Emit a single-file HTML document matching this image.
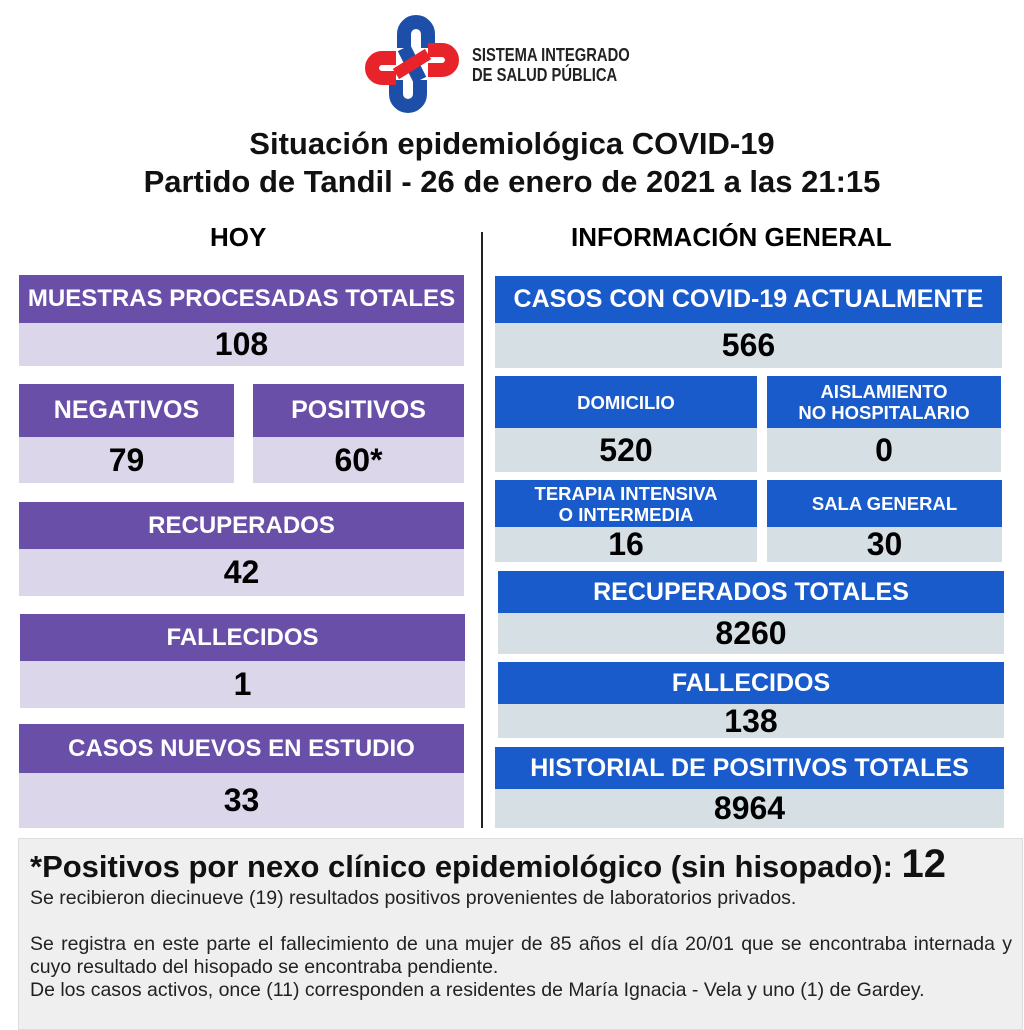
<!DOCTYPE html>
<html><head><meta charset="utf-8"><style>
body{margin:0;width:1024px;height:1024px;background:#fff;position:relative;overflow:hidden;font-family:"Liberation Sans",Arial,sans-serif;font-weight:bold}
.b{position:absolute;display:flex;align-items:center;justify-content:center;text-align:center;white-space:nowrap}
.ph{background:#6a4fa8;color:#fff;font-size:24px}
.pv{background:#dcd6ea;color:#000;font-size:32px}
.bh{background:#1a5bcc;color:#fff;font-size:25px}
.bv{background:#d6e0e4;color:#000;font-size:32px}
.sm{font-size:18.5px;line-height:21px}
.t{position:absolute;left:0;width:1024px;text-align:center;font-size:31px;color:#111}
</style></head><body>
<svg style="position:absolute;left:362px;top:14px" width="100" height="100" viewBox="0 0 100 100">
<path d="M42 34 V20 a12 12 0 0 1 24 0 V34" fill="none" stroke="#1e4fa8" stroke-width="14"/>
<path d="M58 66 V80 a12 12 0 0 1 -24 0 V66" fill="none" stroke="#1e4fa8" stroke-width="14"/>
<path d="M34 44 H20 a10 10 0 0 0 0 20 H34" fill="none" stroke="#e8232a" stroke-width="14"/>
<path d="M66 56 H80 a10 10 0 0 0 0 -20 H66" fill="none" stroke="#e8232a" stroke-width="14"/>
<path d="M42 34 L58 66" stroke="#1e4fa8" stroke-width="14"/>
<path d="M34 60 L66 40" stroke="#e8232a" stroke-width="12"/>
</svg>
<div style="position:absolute;left:472px;top:45px;font-size:18px;line-height:20px;color:#222;transform:scaleX(0.82);transform-origin:left;white-space:nowrap">SISTEMA INTEGRADO<br>DE SALUD PÚBLICA</div>
<div class="t" style="top:126px">Situación epidemiológica COVID-19</div>
<div class="t" style="top:164px">Partido de Tandil - 26 de enero de 2021 a las 21:15</div>
<div style="position:absolute;left:210px;top:222px;font-size:26px">HOY</div>
<div style="position:absolute;left:571px;top:222px;font-size:26px">INFORMACIÓN GENERAL</div>
<div style="position:absolute;left:481px;top:232px;width:2px;height:596px;background:#222"></div>

<div class="b ph" style="left:19px;top:275px;width:445px;height:48px">MUESTRAS PROCESADAS TOTALES</div>
<div class="b pv" style="left:19px;top:323px;width:445px;height:43px">108</div>
<div class="b ph" style="left:19px;top:384px;width:215px;height:53px;font-size:25px">NEGATIVOS</div>
<div class="b pv" style="left:19px;top:437px;width:215px;height:46px">79</div>
<div class="b ph" style="left:253px;top:384px;width:211px;height:53px;font-size:25px">POSITIVOS</div>
<div class="b pv" style="left:253px;top:437px;width:211px;height:46px">60*</div>
<div class="b ph" style="left:19px;top:502px;width:445px;height:47px">RECUPERADOS</div>
<div class="b pv" style="left:19px;top:549px;width:445px;height:47px">42</div>
<div class="b ph" style="left:20px;top:614px;width:445px;height:47px">FALLECIDOS</div>
<div class="b pv" style="left:20px;top:661px;width:445px;height:47px">1</div>
<div class="b ph" style="left:19px;top:724px;width:445px;height:49px">CASOS NUEVOS EN ESTUDIO</div>
<div class="b pv" style="left:19px;top:773px;width:445px;height:55px">33</div>

<div class="b bh" style="left:495px;top:276px;width:507px;height:47px">CASOS CON COVID-19 ACTUALMENTE</div>
<div class="b bv" style="left:495px;top:323px;width:507px;height:45px">566</div>
<div class="b bh sm" style="left:495px;top:376px;width:262px;height:52px">DOMICILIO</div>
<div class="b bv" style="left:495px;top:428px;width:262px;height:44px">520</div>
<div class="b bh sm" style="left:767px;top:376px;width:234px;height:52px">AISLAMIENTO<br>NO HOSPITALARIO</div>
<div class="b bv" style="left:767px;top:428px;width:234px;height:44px">0</div>
<div class="b bh sm" style="left:495px;top:480px;width:262px;height:47px">TERAPIA INTENSIVA<br>O INTERMEDIA</div>
<div class="b bv" style="left:495px;top:527px;width:262px;height:35px">16</div>
<div class="b bh sm" style="left:767px;top:480px;width:235px;height:47px">SALA GENERAL</div>
<div class="b bv" style="left:767px;top:527px;width:235px;height:35px">30</div>
<div class="b bh" style="left:498px;top:571px;width:506px;height:42px">RECUPERADOS TOTALES</div>
<div class="b bv" style="left:498px;top:613px;width:506px;height:41px">8260</div>
<div class="b bh" style="left:498px;top:662px;width:506px;height:42px">FALLECIDOS</div>
<div class="b bv" style="left:498px;top:704px;width:506px;height:34px">138</div>
<div class="b bh" style="left:495px;top:747px;width:509px;height:42px">HISTORIAL DE POSITIVOS TOTALES</div>
<div class="b bv" style="left:495px;top:789px;width:509px;height:39px">8964</div>

<div style="position:absolute;left:18px;top:838px;width:1003px;height:190px;background:#efefef;border:1px solid #ddd"></div>
<div style="position:absolute;left:30px;top:842px;font-size:31px;color:#111;white-space:nowrap">*Positivos por nexo clínico epidemiológico (sin hisopado): <span style="font-size:40px">12</span></div>
<div style="position:absolute;left:30px;top:887px;width:982px;font-size:19.5px;font-weight:normal;line-height:23px;color:#222;text-align:justify">Se recibieron diecinueve (19) resultados positivos provenientes de laboratorios privados.<br><br>Se registra en este parte el fallecimiento de una mujer de 85 años el día 20/01 que se encontraba internada y cuyo resultado del hisopado se encontraba pendiente.<br>De los casos activos, once (11) corresponden a residentes de María Ignacia - Vela y uno (1) de Gardey.</div>
</body></html>
